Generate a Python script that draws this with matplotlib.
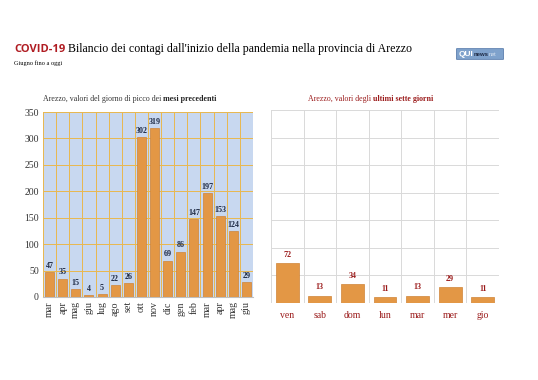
import matplotlib
matplotlib.use("Agg")
import matplotlib.pyplot as plt
from matplotlib.patches import FancyBboxPatch

months = ["mar", "apr", "mag", "giu", "lug", "ago", "set", "ott", "nov", "dic",
          "gen", "feb", "mar", "apr", "mag", "giu"]
month_values = [47, 35, 15, 4, 5, 22, 26, 302, 319, 69, 86, 147, 197, 153, 124, 29]

days = ["ven", "sab", "dom", "lun", "mar", "mer", "gio"]
day_values = [72, 13, 34, 11, 13, 29, 11]

y_ticks = [0, 50, 100, 150, 200, 250, 300, 350]

serif = "Liberation Serif"
bar_color = "#E39745"
bar_edge = "#CF8437"
dark_red = "#9B1B1B"
navy = "#1E2A44"

fig = plt.figure(figsize=(5.38, 3.80), dpi=100)
W, H = 538, 380
renderer = fig.canvas.get_renderer()


def ax_rect(x0, y0, x1, y1):
    return [x0 / W, 1 - y1 / H, (x1 - x0) / W, (y1 - y0) / H]


def chain(x_px, y_px, parts, va="baseline"):
    """Draw consecutive text parts starting at x_px (pixels from left)."""
    x = x_px
    for txt, kw in parts:
        t = fig.text(x / W, 1 - y_px / H, txt, va=va, ha="left", **kw)
        bb = t.get_window_extent(renderer=renderer)
        x += bb.width
    return x


# Titles
chain(14, 52, [
    ("COVID-19", dict(color="#B01C22", fontsize=8, fontweight="bold", family="Open Sans")),
    (" Bilancio dei contagi dall'inizio della pandemia nella provincia di Arezzo",
     dict(color="black", fontsize=8.6, family=serif)),
])
fig.text(14 / W, 1 - 64.5 / H, "Giugno fino a oggi", fontsize=4.5, family=serif, va="baseline")

# Logo
logo = FancyBboxPatch((457 / W, 1 - 59 / H), 46 / W, 10 / H,
                      boxstyle="round,pad=0.001", transform=fig.transFigure,
                      facecolor="#7FA2CC", edgecolor="#5C7FAE", linewidth=0.6)
fig.patches.append(logo)
chain(459, 56.5, [
    ("QUI", dict(color="white", fontsize=6, fontweight="bold", family="Liberation Sans")),
    ("news", dict(color="#1E2A44", fontsize=4.3, fontweight="bold", family="Liberation Sans")),
    ("net", dict(color="#DDE6F2", fontsize=4, family="Liberation Sans")),
])

# Panel titles
chain(43, 101, [
    ("Arezzo, valori del giorno di picco dei ",
     dict(fontsize=5.7, family=serif, color="#333333")),
    ("mesi precedenti", dict(fontsize=5.7, family=serif, fontweight="bold", color="#222222")),
])
chain(308, 101, [
    ("Arezzo, valori degli ", dict(fontsize=5.7, family=serif, color=dark_red)),
    ("ultimi sette giorni", dict(fontsize=5.7, family=serif, fontweight="bold", color=dark_red)),
])

# Left chart
ax1 = fig.add_axes(ax_rect(43, 112, 253, 297))
ax1.set_facecolor("#C8D8F0")
x1 = list(range(len(months)))
ax1.bar(x1, month_values, width=0.68, color=bar_color, edgecolor=bar_edge,
        linewidth=0.5, zorder=3)
ax1.set_xlim(-0.5, len(months) - 0.5)
ax1.set_ylim(0, 350)
ax1.set_yticks(y_ticks)
ax1.set_yticklabels([str(v) for v in y_ticks], family=serif, fontsize=7, color="#333333")
ax1.set_xticks(x1)
ax1.set_xticklabels(months, rotation=90, family=serif, fontsize=7.2, color="#333333")
for b in [i + 0.5 for i in range(-1, len(months))]:
    ax1.axvline(b, color="#E9B84E", linewidth=0.7, zorder=1)
for yv in y_ticks:
    ax1.axhline(yv, color="#E9B84E", linewidth=0.7, zorder=1)
for s in ax1.spines.values():
    s.set_visible(False)
ax1.spines["bottom"].set_visible(True)
ax1.spines["bottom"].set_color("#BFBFBF")
ax1.tick_params(length=0, pad=3)
for xi, v in zip(x1, month_values):
    ax1.text(xi, v + 4, str(v), ha="center", va="bottom", fontsize=5.8,
             fontweight="bold", family=serif, color=navy, zorder=4)

# Right chart
ax2 = fig.add_axes(ax_rect(271, 110, 499, 303))
ax2.set_facecolor("white")
x2 = list(range(len(days)))
ax2.bar(x2, day_values, width=0.7, color=bar_color, edgecolor=bar_edge,
        linewidth=0.5, zorder=3)
ax2.set_xlim(-0.5, len(days) - 0.5)
ax2.set_ylim(0, 350)
ax2.set_yticks(y_ticks)
ax2.set_yticklabels([])
ax2.set_xticks(x2)
ax2.set_xticklabels(days, family=serif, fontsize=7, color=dark_red)
for b in [i + 0.5 for i in range(-1, len(days))]:
    ax2.axvline(b, color="#D9D9D9", linewidth=0.7, zorder=1)
for yv in y_ticks:
    ax2.axhline(yv, color="#D9D9D9", linewidth=0.7, zorder=1)
for s in ax2.spines.values():
    s.set_visible(False)
ax2.tick_params(length=0, pad=6)
for xi, v in zip(x2, day_values):
    ax2.text(xi, v + 8, str(v), ha="center", va="bottom", fontsize=5.8,
             fontweight="bold", family=serif, color=dark_red, zorder=4)

fig.savefig("out.png", dpi=100, facecolor="white")
